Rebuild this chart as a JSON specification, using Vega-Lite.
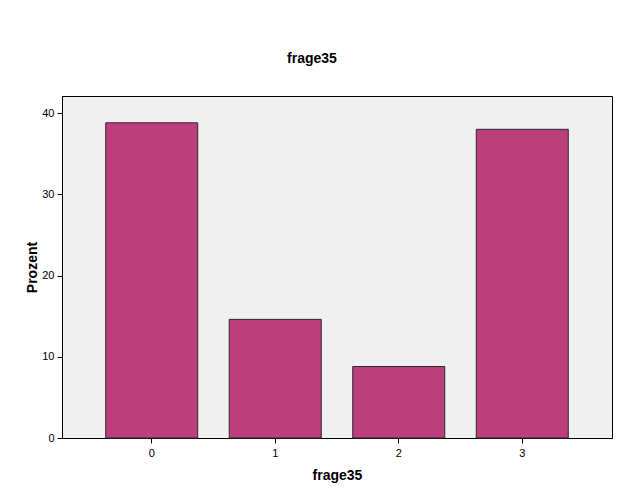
{
  "$schema": "https://vega.github.io/schema/vega-lite/v6.json",
  "width": 550,
  "height": 342,
  "autosize": {"type": "none"},
  "padding": {"left": 62, "top": 96, "right": 13, "bottom": 62},
  "background": "white",
  "title": {
    "text": "frage35",
    "font": "Liberation Sans",
    "fontSize": 14,
    "fontWeight": "bold",
    "color": "black",
    "anchor": "middle",
    "dx": -25,
    "offset": 30
  },
  "config": {
    "view": {"fill": "#F0F0F0", "stroke": "black", "strokeWidth": 1},
    "axis": {
      "labelFont": "Liberation Sans",
      "labelFontSize": 11,
      "labelColor": "black",
      "titleFont": "Liberation Sans",
      "titleFontSize": 14,
      "titleFontWeight": "bold",
      "titleColor": "black",
      "domainColor": "black",
      "tickColor": "black",
      "tickSize": 5,
      "grid": false
    }
  },
  "data": {
    "values": [
      {"frage35": "0", "Prozent": 38.8},
      {"frage35": "1", "Prozent": 14.6},
      {"frage35": "2", "Prozent": 8.8},
      {"frage35": "3", "Prozent": 38.0}
    ]
  },
  "mark": {"type": "bar", "color": "#BC3E7D", "stroke": "#2A2A2A", "strokeWidth": 1},
  "encoding": {
    "x": {
      "field": "frage35",
      "type": "ordinal",
      "scale": {"paddingInner": 0.255, "paddingOuter": 0.354},
      "axis": {"title": "frage35", "labelAngle": 0, "titleY": 30, "labelPadding": 4}
    },
    "y": {
      "field": "Prozent",
      "type": "quantitative",
      "scale": {"domain": [0, 42.1], "nice": false},
      "axis": {"title": "Prozent", "values": [0, 10, 20, 30, 40], "titleX": -23, "labelPadding": 3}
    }
  }
}
